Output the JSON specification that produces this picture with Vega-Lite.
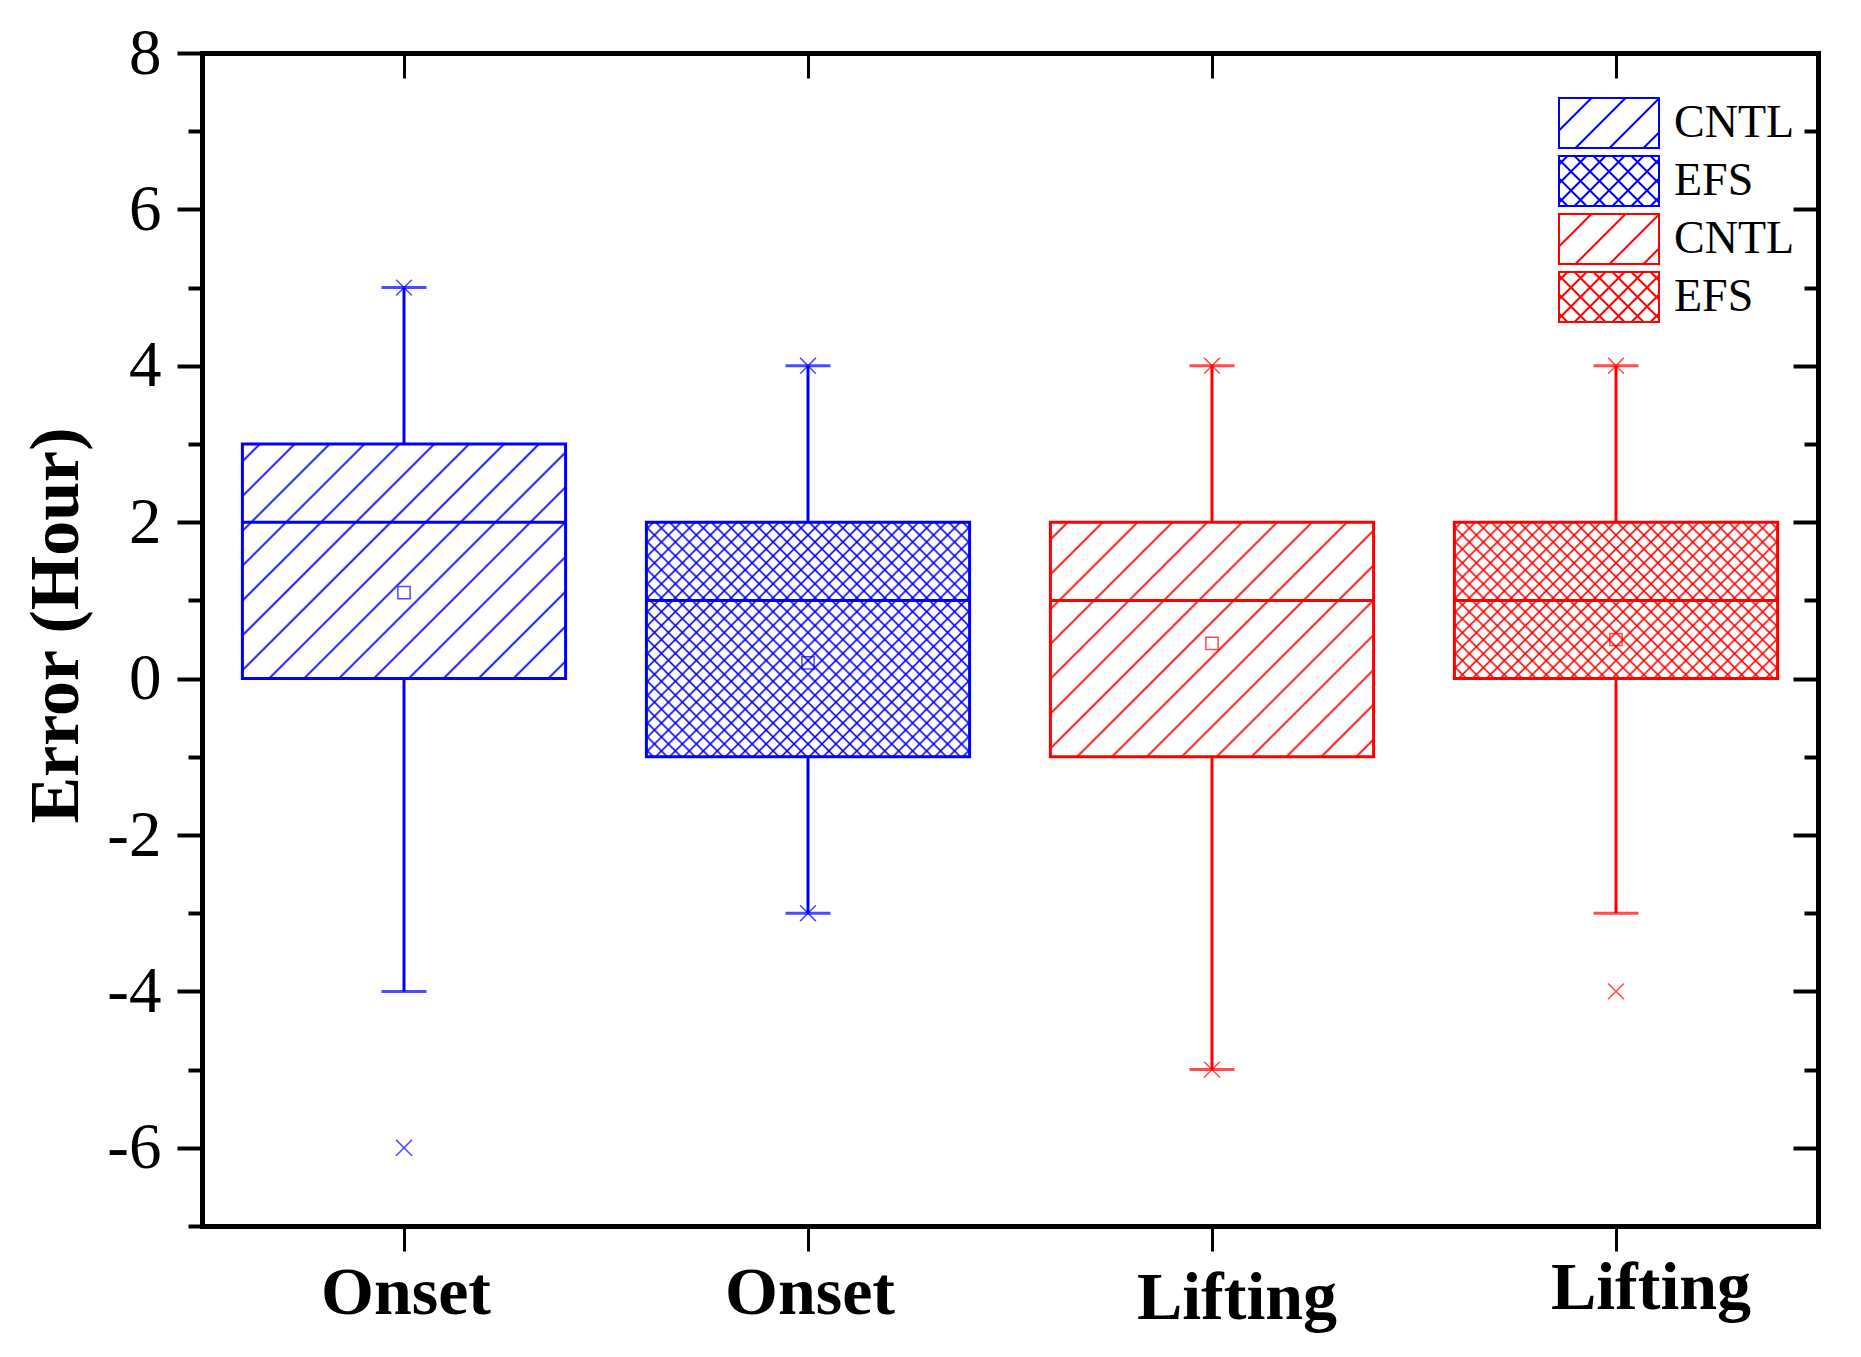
{
  "$schema": "https://vega.github.io/schema/vega-lite/v6.json",
  "width": 1616,
  "height": 1173,
  "autosize": {"type": "none"},
  "padding": {"left": 202, "top": 53, "right": 43, "bottom": 131},
  "background": "white",
  "config": {"view": {"stroke": null}, "font": "Liberation Serif"},
  "datasets": {
    "boxes": [
      {"id": "1", "name": "Onset", "grp": "a", "lower": -4, "q1": 0, "median": 2, "q3": 3, "upper": 5, "mean": 1.1},
      {"id": "2", "name": "Onset", "grp": "b", "lower": -3, "q1": -1, "median": 1, "q3": 2, "upper": 4, "mean": 0.2},
      {"id": "3", "name": "Lifting", "grp": "c", "lower": -5, "q1": -1, "median": 1, "q3": 2, "upper": 4, "mean": 0.45},
      {"id": "4", "name": "Lifting", "grp": "d", "lower": -3, "q1": 0, "median": 1, "q3": 2, "upper": 4, "mean": 0.5}
    ],
    "extremes": [
      {"id": "1", "grp": "a", "value": 5}, {"id": "1", "grp": "a", "value": -6},
      {"id": "2", "grp": "b", "value": 4}, {"id": "2", "grp": "b", "value": -3},
      {"id": "3", "grp": "c", "value": 4}, {"id": "3", "grp": "c", "value": -5},
      {"id": "4", "grp": "d", "value": 4}, {"id": "4", "grp": "d", "value": -4}
    ]
  },
  "data": {"name": "boxes"},
  "encoding": {
    "x": {"field": "id", "type": "nominal", "scale": {"type": "band", "domain": ["1", "2", "3", "4"], "paddingInner": 0.2, "paddingOuter": 0.1}, "axis": null},
    "color": {
      "field": "grp", "type": "nominal",
      "scale": {"domain": ["a", "b", "c", "d"], "range": ["#0000ff", "#0000ff", "#ff0000", "#ff0000"]},
      "legend": {
        "orient": "none", "legendX": 1381, "legendY": 44, "title": null, "padding": 0,
        "labelExpr": "{'a':'CNTL','b':'EFS','c':'CNTL','d':'EFS'}[datum.value]",
        "labelFont": "Liberation Serif", "labelFontSize": 46, "labelColor": "black", "labelOffset": 39,
        "rowPadding": 0, "symbolSize": 2500, "symbolStrokeWidth": 2, "symbolFillColor": "transparent",
        "encode": {"symbols": {"update": {
          "shape": {"signal": "datum.value === 'a' || datum.value === 'c' ? 'M-2,-1H2V1H-2ZM-2,0.3L-0.7,-1M-1.34,1L0.66,-1M0.02,1L2,-0.98M1.38,1L2,0.38' : 'M-2,-1H2V1H-2ZM-2,-0.66L-1.66,-1M-2,0.1L-0.9,-1M-2,0.86L-0.14,-1M-1.38,1L0.62,-1M-0.62,1L1.38,-1M0.14,1L2,-0.86M0.9,1L2,-0.1M1.66,1L2,0.66M-2,0.66L-1.66,1M-2,-0.1L-0.9,1M-2,-0.86L-0.14,1M-1.38,-1L0.62,1M-0.62,-1L1.38,1M0.14,-1L2,0.86M0.9,-1L2,0.1M1.66,-1L2,-0.66'"},
          "fill": {"value": "transparent"},
          "fillOpacity": {"value": 0},
          "stroke": {"scale": "color", "field": "value"},
          "strokeWidth": {"value": 2},
          "size": {"value": 2500}
        }}}
      }
    }
  },
  "layer": [
    {
      "transform": [{"filter": "datum.id === '1'"}],
      "mark": {"type": "bar"},
      "encoding": {
        "y": {"field": "q1", "type": "quantitative", "scale": {"domain": [-7, 8], "nice": false, "zero": false}, "axis": null},
        "y2": {"field": "q3"},
        "color": {"value": {"gradient": "linear", "x1": 0, "y1": 0, "x2": 1.1297, "y2": 0.8218, "stops": [
          {"offset": 0.02675, "color": "rgba(0,0,255,0)"}, {"offset": 0.03125, "color": "#0000ff"}, {"offset": 0.03575, "color": "rgba(0,0,255,0)"},
          {"offset": 0.08925, "color": "rgba(0,0,255,0)"}, {"offset": 0.09375, "color": "#0000ff"}, {"offset": 0.09825, "color": "rgba(0,0,255,0)"},
          {"offset": 0.15175, "color": "rgba(0,0,255,0)"}, {"offset": 0.15625, "color": "#0000ff"}, {"offset": 0.16075, "color": "rgba(0,0,255,0)"},
          {"offset": 0.21425, "color": "rgba(0,0,255,0)"}, {"offset": 0.21875, "color": "#0000ff"}, {"offset": 0.22325, "color": "rgba(0,0,255,0)"},
          {"offset": 0.27675, "color": "rgba(0,0,255,0)"}, {"offset": 0.28125, "color": "#0000ff"}, {"offset": 0.28575, "color": "rgba(0,0,255,0)"},
          {"offset": 0.33925, "color": "rgba(0,0,255,0)"}, {"offset": 0.34375, "color": "#0000ff"}, {"offset": 0.34825, "color": "rgba(0,0,255,0)"},
          {"offset": 0.40175, "color": "rgba(0,0,255,0)"}, {"offset": 0.40625, "color": "#0000ff"}, {"offset": 0.41075, "color": "rgba(0,0,255,0)"},
          {"offset": 0.46425, "color": "rgba(0,0,255,0)"}, {"offset": 0.46875, "color": "#0000ff"}, {"offset": 0.47325, "color": "rgba(0,0,255,0)"},
          {"offset": 0.52675, "color": "rgba(0,0,255,0)"}, {"offset": 0.53125, "color": "#0000ff"}, {"offset": 0.53575, "color": "rgba(0,0,255,0)"},
          {"offset": 0.58925, "color": "rgba(0,0,255,0)"}, {"offset": 0.59375, "color": "#0000ff"}, {"offset": 0.59825, "color": "rgba(0,0,255,0)"},
          {"offset": 0.65175, "color": "rgba(0,0,255,0)"}, {"offset": 0.65625, "color": "#0000ff"}, {"offset": 0.66075, "color": "rgba(0,0,255,0)"},
          {"offset": 0.71425, "color": "rgba(0,0,255,0)"}, {"offset": 0.71875, "color": "#0000ff"}, {"offset": 0.72325, "color": "rgba(0,0,255,0)"},
          {"offset": 0.77675, "color": "rgba(0,0,255,0)"}, {"offset": 0.78125, "color": "#0000ff"}, {"offset": 0.78575, "color": "rgba(0,0,255,0)"},
          {"offset": 0.83925, "color": "rgba(0,0,255,0)"}, {"offset": 0.84375, "color": "#0000ff"}, {"offset": 0.84825, "color": "rgba(0,0,255,0)"},
          {"offset": 0.90175, "color": "rgba(0,0,255,0)"}, {"offset": 0.90625, "color": "#0000ff"}, {"offset": 0.91075, "color": "rgba(0,0,255,0)"},
          {"offset": 0.96425, "color": "rgba(0,0,255,0)"}, {"offset": 0.96875, "color": "#0000ff"}, {"offset": 0.97325, "color": "rgba(0,0,255,0)"}
        ]}}
      }
    },
    {
      "transform": [{"filter": "datum.id === '2'"}],
      "mark": {"type": "bar"},
      "encoding": {
        "y": {"field": "q1", "type": "quantitative", "scale": {"domain": [-7, 8], "nice": false, "zero": false}, "axis": null},
        "y2": {"field": "q3"},
        "color": {"value": {"gradient": "linear", "x1": 0, "y1": 0, "x2": 1.1297, "y2": 0.8218, "stops": [
          {"offset": 0.0085, "color": "rgba(0,0,255,0)"}, {"offset": 0.0125, "color": "#0000ff"}, {"offset": 0.0165, "color": "rgba(0,0,255,0)"},
          {"offset": 0.0335, "color": "rgba(0,0,255,0)"}, {"offset": 0.0375, "color": "#0000ff"}, {"offset": 0.0415, "color": "rgba(0,0,255,0)"},
          {"offset": 0.0585, "color": "rgba(0,0,255,0)"}, {"offset": 0.0625, "color": "#0000ff"}, {"offset": 0.0665, "color": "rgba(0,0,255,0)"},
          {"offset": 0.0835, "color": "rgba(0,0,255,0)"}, {"offset": 0.0875, "color": "#0000ff"}, {"offset": 0.0915, "color": "rgba(0,0,255,0)"},
          {"offset": 0.1085, "color": "rgba(0,0,255,0)"}, {"offset": 0.1125, "color": "#0000ff"}, {"offset": 0.1165, "color": "rgba(0,0,255,0)"},
          {"offset": 0.1335, "color": "rgba(0,0,255,0)"}, {"offset": 0.1375, "color": "#0000ff"}, {"offset": 0.1415, "color": "rgba(0,0,255,0)"},
          {"offset": 0.1585, "color": "rgba(0,0,255,0)"}, {"offset": 0.1625, "color": "#0000ff"}, {"offset": 0.1665, "color": "rgba(0,0,255,0)"},
          {"offset": 0.1835, "color": "rgba(0,0,255,0)"}, {"offset": 0.1875, "color": "#0000ff"}, {"offset": 0.1915, "color": "rgba(0,0,255,0)"},
          {"offset": 0.2085, "color": "rgba(0,0,255,0)"}, {"offset": 0.2125, "color": "#0000ff"}, {"offset": 0.2165, "color": "rgba(0,0,255,0)"},
          {"offset": 0.2335, "color": "rgba(0,0,255,0)"}, {"offset": 0.2375, "color": "#0000ff"}, {"offset": 0.2415, "color": "rgba(0,0,255,0)"},
          {"offset": 0.2585, "color": "rgba(0,0,255,0)"}, {"offset": 0.2625, "color": "#0000ff"}, {"offset": 0.2665, "color": "rgba(0,0,255,0)"},
          {"offset": 0.2835, "color": "rgba(0,0,255,0)"}, {"offset": 0.2875, "color": "#0000ff"}, {"offset": 0.2915, "color": "rgba(0,0,255,0)"},
          {"offset": 0.3085, "color": "rgba(0,0,255,0)"}, {"offset": 0.3125, "color": "#0000ff"}, {"offset": 0.3165, "color": "rgba(0,0,255,0)"},
          {"offset": 0.3335, "color": "rgba(0,0,255,0)"}, {"offset": 0.3375, "color": "#0000ff"}, {"offset": 0.3415, "color": "rgba(0,0,255,0)"},
          {"offset": 0.3585, "color": "rgba(0,0,255,0)"}, {"offset": 0.3625, "color": "#0000ff"}, {"offset": 0.3665, "color": "rgba(0,0,255,0)"},
          {"offset": 0.3835, "color": "rgba(0,0,255,0)"}, {"offset": 0.3875, "color": "#0000ff"}, {"offset": 0.3915, "color": "rgba(0,0,255,0)"},
          {"offset": 0.4085, "color": "rgba(0,0,255,0)"}, {"offset": 0.4125, "color": "#0000ff"}, {"offset": 0.4165, "color": "rgba(0,0,255,0)"},
          {"offset": 0.4335, "color": "rgba(0,0,255,0)"}, {"offset": 0.4375, "color": "#0000ff"}, {"offset": 0.4415, "color": "rgba(0,0,255,0)"},
          {"offset": 0.4585, "color": "rgba(0,0,255,0)"}, {"offset": 0.4625, "color": "#0000ff"}, {"offset": 0.4665, "color": "rgba(0,0,255,0)"},
          {"offset": 0.4835, "color": "rgba(0,0,255,0)"}, {"offset": 0.4875, "color": "#0000ff"}, {"offset": 0.4915, "color": "rgba(0,0,255,0)"},
          {"offset": 0.5085, "color": "rgba(0,0,255,0)"}, {"offset": 0.5125, "color": "#0000ff"}, {"offset": 0.5165, "color": "rgba(0,0,255,0)"},
          {"offset": 0.5335, "color": "rgba(0,0,255,0)"}, {"offset": 0.5375, "color": "#0000ff"}, {"offset": 0.5415, "color": "rgba(0,0,255,0)"},
          {"offset": 0.5585, "color": "rgba(0,0,255,0)"}, {"offset": 0.5625, "color": "#0000ff"}, {"offset": 0.5665, "color": "rgba(0,0,255,0)"},
          {"offset": 0.5835, "color": "rgba(0,0,255,0)"}, {"offset": 0.5875, "color": "#0000ff"}, {"offset": 0.5915, "color": "rgba(0,0,255,0)"},
          {"offset": 0.6085, "color": "rgba(0,0,255,0)"}, {"offset": 0.6125, "color": "#0000ff"}, {"offset": 0.6165, "color": "rgba(0,0,255,0)"},
          {"offset": 0.6335, "color": "rgba(0,0,255,0)"}, {"offset": 0.6375, "color": "#0000ff"}, {"offset": 0.6415, "color": "rgba(0,0,255,0)"},
          {"offset": 0.6585, "color": "rgba(0,0,255,0)"}, {"offset": 0.6625, "color": "#0000ff"}, {"offset": 0.6665, "color": "rgba(0,0,255,0)"},
          {"offset": 0.6835, "color": "rgba(0,0,255,0)"}, {"offset": 0.6875, "color": "#0000ff"}, {"offset": 0.6915, "color": "rgba(0,0,255,0)"},
          {"offset": 0.7085, "color": "rgba(0,0,255,0)"}, {"offset": 0.7125, "color": "#0000ff"}, {"offset": 0.7165, "color": "rgba(0,0,255,0)"},
          {"offset": 0.7335, "color": "rgba(0,0,255,0)"}, {"offset": 0.7375, "color": "#0000ff"}, {"offset": 0.7415, "color": "rgba(0,0,255,0)"},
          {"offset": 0.7585, "color": "rgba(0,0,255,0)"}, {"offset": 0.7625, "color": "#0000ff"}, {"offset": 0.7665, "color": "rgba(0,0,255,0)"},
          {"offset": 0.7835, "color": "rgba(0,0,255,0)"}, {"offset": 0.7875, "color": "#0000ff"}, {"offset": 0.7915, "color": "rgba(0,0,255,0)"},
          {"offset": 0.8085, "color": "rgba(0,0,255,0)"}, {"offset": 0.8125, "color": "#0000ff"}, {"offset": 0.8165, "color": "rgba(0,0,255,0)"},
          {"offset": 0.8335, "color": "rgba(0,0,255,0)"}, {"offset": 0.8375, "color": "#0000ff"}, {"offset": 0.8415, "color": "rgba(0,0,255,0)"},
          {"offset": 0.8585, "color": "rgba(0,0,255,0)"}, {"offset": 0.8625, "color": "#0000ff"}, {"offset": 0.8665, "color": "rgba(0,0,255,0)"},
          {"offset": 0.8835, "color": "rgba(0,0,255,0)"}, {"offset": 0.8875, "color": "#0000ff"}, {"offset": 0.8915, "color": "rgba(0,0,255,0)"},
          {"offset": 0.9085, "color": "rgba(0,0,255,0)"}, {"offset": 0.9125, "color": "#0000ff"}, {"offset": 0.9165, "color": "rgba(0,0,255,0)"},
          {"offset": 0.9335, "color": "rgba(0,0,255,0)"}, {"offset": 0.9375, "color": "#0000ff"}, {"offset": 0.9415, "color": "rgba(0,0,255,0)"},
          {"offset": 0.9585, "color": "rgba(0,0,255,0)"}, {"offset": 0.9625, "color": "#0000ff"}, {"offset": 0.9665, "color": "rgba(0,0,255,0)"},
          {"offset": 0.9835, "color": "rgba(0,0,255,0)"}, {"offset": 0.9875, "color": "#0000ff"}, {"offset": 0.9915, "color": "rgba(0,0,255,0)"}
        ]}}
      }
    },
    {
      "transform": [{"filter": "datum.id === '2'"}],
      "mark": {"type": "bar"},
      "encoding": {
        "y": {"field": "q1", "type": "quantitative", "scale": {"domain": [-7, 8], "nice": false, "zero": false}, "axis": null},
        "y2": {"field": "q3"},
        "color": {"value": {"gradient": "linear", "x1": 1, "y1": 0, "x2": -0.1297, "y2": 0.8218, "stops": [
          {"offset": 0.0085, "color": "rgba(0,0,255,0)"}, {"offset": 0.0125, "color": "#0000ff"}, {"offset": 0.0165, "color": "rgba(0,0,255,0)"},
          {"offset": 0.0335, "color": "rgba(0,0,255,0)"}, {"offset": 0.0375, "color": "#0000ff"}, {"offset": 0.0415, "color": "rgba(0,0,255,0)"},
          {"offset": 0.0585, "color": "rgba(0,0,255,0)"}, {"offset": 0.0625, "color": "#0000ff"}, {"offset": 0.0665, "color": "rgba(0,0,255,0)"},
          {"offset": 0.0835, "color": "rgba(0,0,255,0)"}, {"offset": 0.0875, "color": "#0000ff"}, {"offset": 0.0915, "color": "rgba(0,0,255,0)"},
          {"offset": 0.1085, "color": "rgba(0,0,255,0)"}, {"offset": 0.1125, "color": "#0000ff"}, {"offset": 0.1165, "color": "rgba(0,0,255,0)"},
          {"offset": 0.1335, "color": "rgba(0,0,255,0)"}, {"offset": 0.1375, "color": "#0000ff"}, {"offset": 0.1415, "color": "rgba(0,0,255,0)"},
          {"offset": 0.1585, "color": "rgba(0,0,255,0)"}, {"offset": 0.1625, "color": "#0000ff"}, {"offset": 0.1665, "color": "rgba(0,0,255,0)"},
          {"offset": 0.1835, "color": "rgba(0,0,255,0)"}, {"offset": 0.1875, "color": "#0000ff"}, {"offset": 0.1915, "color": "rgba(0,0,255,0)"},
          {"offset": 0.2085, "color": "rgba(0,0,255,0)"}, {"offset": 0.2125, "color": "#0000ff"}, {"offset": 0.2165, "color": "rgba(0,0,255,0)"},
          {"offset": 0.2335, "color": "rgba(0,0,255,0)"}, {"offset": 0.2375, "color": "#0000ff"}, {"offset": 0.2415, "color": "rgba(0,0,255,0)"},
          {"offset": 0.2585, "color": "rgba(0,0,255,0)"}, {"offset": 0.2625, "color": "#0000ff"}, {"offset": 0.2665, "color": "rgba(0,0,255,0)"},
          {"offset": 0.2835, "color": "rgba(0,0,255,0)"}, {"offset": 0.2875, "color": "#0000ff"}, {"offset": 0.2915, "color": "rgba(0,0,255,0)"},
          {"offset": 0.3085, "color": "rgba(0,0,255,0)"}, {"offset": 0.3125, "color": "#0000ff"}, {"offset": 0.3165, "color": "rgba(0,0,255,0)"},
          {"offset": 0.3335, "color": "rgba(0,0,255,0)"}, {"offset": 0.3375, "color": "#0000ff"}, {"offset": 0.3415, "color": "rgba(0,0,255,0)"},
          {"offset": 0.3585, "color": "rgba(0,0,255,0)"}, {"offset": 0.3625, "color": "#0000ff"}, {"offset": 0.3665, "color": "rgba(0,0,255,0)"},
          {"offset": 0.3835, "color": "rgba(0,0,255,0)"}, {"offset": 0.3875, "color": "#0000ff"}, {"offset": 0.3915, "color": "rgba(0,0,255,0)"},
          {"offset": 0.4085, "color": "rgba(0,0,255,0)"}, {"offset": 0.4125, "color": "#0000ff"}, {"offset": 0.4165, "color": "rgba(0,0,255,0)"},
          {"offset": 0.4335, "color": "rgba(0,0,255,0)"}, {"offset": 0.4375, "color": "#0000ff"}, {"offset": 0.4415, "color": "rgba(0,0,255,0)"},
          {"offset": 0.4585, "color": "rgba(0,0,255,0)"}, {"offset": 0.4625, "color": "#0000ff"}, {"offset": 0.4665, "color": "rgba(0,0,255,0)"},
          {"offset": 0.4835, "color": "rgba(0,0,255,0)"}, {"offset": 0.4875, "color": "#0000ff"}, {"offset": 0.4915, "color": "rgba(0,0,255,0)"},
          {"offset": 0.5085, "color": "rgba(0,0,255,0)"}, {"offset": 0.5125, "color": "#0000ff"}, {"offset": 0.5165, "color": "rgba(0,0,255,0)"},
          {"offset": 0.5335, "color": "rgba(0,0,255,0)"}, {"offset": 0.5375, "color": "#0000ff"}, {"offset": 0.5415, "color": "rgba(0,0,255,0)"},
          {"offset": 0.5585, "color": "rgba(0,0,255,0)"}, {"offset": 0.5625, "color": "#0000ff"}, {"offset": 0.5665, "color": "rgba(0,0,255,0)"},
          {"offset": 0.5835, "color": "rgba(0,0,255,0)"}, {"offset": 0.5875, "color": "#0000ff"}, {"offset": 0.5915, "color": "rgba(0,0,255,0)"},
          {"offset": 0.6085, "color": "rgba(0,0,255,0)"}, {"offset": 0.6125, "color": "#0000ff"}, {"offset": 0.6165, "color": "rgba(0,0,255,0)"},
          {"offset": 0.6335, "color": "rgba(0,0,255,0)"}, {"offset": 0.6375, "color": "#0000ff"}, {"offset": 0.6415, "color": "rgba(0,0,255,0)"},
          {"offset": 0.6585, "color": "rgba(0,0,255,0)"}, {"offset": 0.6625, "color": "#0000ff"}, {"offset": 0.6665, "color": "rgba(0,0,255,0)"},
          {"offset": 0.6835, "color": "rgba(0,0,255,0)"}, {"offset": 0.6875, "color": "#0000ff"}, {"offset": 0.6915, "color": "rgba(0,0,255,0)"},
          {"offset": 0.7085, "color": "rgba(0,0,255,0)"}, {"offset": 0.7125, "color": "#0000ff"}, {"offset": 0.7165, "color": "rgba(0,0,255,0)"},
          {"offset": 0.7335, "color": "rgba(0,0,255,0)"}, {"offset": 0.7375, "color": "#0000ff"}, {"offset": 0.7415, "color": "rgba(0,0,255,0)"},
          {"offset": 0.7585, "color": "rgba(0,0,255,0)"}, {"offset": 0.7625, "color": "#0000ff"}, {"offset": 0.7665, "color": "rgba(0,0,255,0)"},
          {"offset": 0.7835, "color": "rgba(0,0,255,0)"}, {"offset": 0.7875, "color": "#0000ff"}, {"offset": 0.7915, "color": "rgba(0,0,255,0)"},
          {"offset": 0.8085, "color": "rgba(0,0,255,0)"}, {"offset": 0.8125, "color": "#0000ff"}, {"offset": 0.8165, "color": "rgba(0,0,255,0)"},
          {"offset": 0.8335, "color": "rgba(0,0,255,0)"}, {"offset": 0.8375, "color": "#0000ff"}, {"offset": 0.8415, "color": "rgba(0,0,255,0)"},
          {"offset": 0.8585, "color": "rgba(0,0,255,0)"}, {"offset": 0.8625, "color": "#0000ff"}, {"offset": 0.8665, "color": "rgba(0,0,255,0)"},
          {"offset": 0.8835, "color": "rgba(0,0,255,0)"}, {"offset": 0.8875, "color": "#0000ff"}, {"offset": 0.8915, "color": "rgba(0,0,255,0)"},
          {"offset": 0.9085, "color": "rgba(0,0,255,0)"}, {"offset": 0.9125, "color": "#0000ff"}, {"offset": 0.9165, "color": "rgba(0,0,255,0)"},
          {"offset": 0.9335, "color": "rgba(0,0,255,0)"}, {"offset": 0.9375, "color": "#0000ff"}, {"offset": 0.9415, "color": "rgba(0,0,255,0)"},
          {"offset": 0.9585, "color": "rgba(0,0,255,0)"}, {"offset": 0.9625, "color": "#0000ff"}, {"offset": 0.9665, "color": "rgba(0,0,255,0)"},
          {"offset": 0.9835, "color": "rgba(0,0,255,0)"}, {"offset": 0.9875, "color": "#0000ff"}, {"offset": 0.9915, "color": "rgba(0,0,255,0)"}
        ]}}
      }
    },
    {
      "transform": [{"filter": "datum.id === '3'"}],
      "mark": {"type": "bar"},
      "encoding": {
        "y": {"field": "q1", "type": "quantitative", "scale": {"domain": [-7, 8], "nice": false, "zero": false}, "axis": null},
        "y2": {"field": "q3"},
        "color": {"value": {"gradient": "linear", "x1": 0, "y1": 0, "x2": 1.1297, "y2": 0.8218, "stops": [
          {"offset": 0.02675, "color": "rgba(255,0,0,0)"}, {"offset": 0.03125, "color": "#ff0000"}, {"offset": 0.03575, "color": "rgba(255,0,0,0)"},
          {"offset": 0.08925, "color": "rgba(255,0,0,0)"}, {"offset": 0.09375, "color": "#ff0000"}, {"offset": 0.09825, "color": "rgba(255,0,0,0)"},
          {"offset": 0.15175, "color": "rgba(255,0,0,0)"}, {"offset": 0.15625, "color": "#ff0000"}, {"offset": 0.16075, "color": "rgba(255,0,0,0)"},
          {"offset": 0.21425, "color": "rgba(255,0,0,0)"}, {"offset": 0.21875, "color": "#ff0000"}, {"offset": 0.22325, "color": "rgba(255,0,0,0)"},
          {"offset": 0.27675, "color": "rgba(255,0,0,0)"}, {"offset": 0.28125, "color": "#ff0000"}, {"offset": 0.28575, "color": "rgba(255,0,0,0)"},
          {"offset": 0.33925, "color": "rgba(255,0,0,0)"}, {"offset": 0.34375, "color": "#ff0000"}, {"offset": 0.34825, "color": "rgba(255,0,0,0)"},
          {"offset": 0.40175, "color": "rgba(255,0,0,0)"}, {"offset": 0.40625, "color": "#ff0000"}, {"offset": 0.41075, "color": "rgba(255,0,0,0)"},
          {"offset": 0.46425, "color": "rgba(255,0,0,0)"}, {"offset": 0.46875, "color": "#ff0000"}, {"offset": 0.47325, "color": "rgba(255,0,0,0)"},
          {"offset": 0.52675, "color": "rgba(255,0,0,0)"}, {"offset": 0.53125, "color": "#ff0000"}, {"offset": 0.53575, "color": "rgba(255,0,0,0)"},
          {"offset": 0.58925, "color": "rgba(255,0,0,0)"}, {"offset": 0.59375, "color": "#ff0000"}, {"offset": 0.59825, "color": "rgba(255,0,0,0)"},
          {"offset": 0.65175, "color": "rgba(255,0,0,0)"}, {"offset": 0.65625, "color": "#ff0000"}, {"offset": 0.66075, "color": "rgba(255,0,0,0)"},
          {"offset": 0.71425, "color": "rgba(255,0,0,0)"}, {"offset": 0.71875, "color": "#ff0000"}, {"offset": 0.72325, "color": "rgba(255,0,0,0)"},
          {"offset": 0.77675, "color": "rgba(255,0,0,0)"}, {"offset": 0.78125, "color": "#ff0000"}, {"offset": 0.78575, "color": "rgba(255,0,0,0)"},
          {"offset": 0.83925, "color": "rgba(255,0,0,0)"}, {"offset": 0.84375, "color": "#ff0000"}, {"offset": 0.84825, "color": "rgba(255,0,0,0)"},
          {"offset": 0.90175, "color": "rgba(255,0,0,0)"}, {"offset": 0.90625, "color": "#ff0000"}, {"offset": 0.91075, "color": "rgba(255,0,0,0)"},
          {"offset": 0.96425, "color": "rgba(255,0,0,0)"}, {"offset": 0.96875, "color": "#ff0000"}, {"offset": 0.97325, "color": "rgba(255,0,0,0)"}
        ]}}
      }
    },
    {
      "transform": [{"filter": "datum.id === '4'"}],
      "mark": {"type": "bar"},
      "encoding": {
        "y": {"field": "q1", "type": "quantitative", "scale": {"domain": [-7, 8], "nice": false, "zero": false}, "axis": null},
        "y2": {"field": "q3"},
        "color": {"value": {"gradient": "linear", "x1": 0, "y1": 0, "x2": 1.3996, "y2": 0.6777, "stops": [
          {"offset": 0.0085, "color": "rgba(255,0,0,0)"}, {"offset": 0.0125, "color": "#ff0000"}, {"offset": 0.0165, "color": "rgba(255,0,0,0)"},
          {"offset": 0.0335, "color": "rgba(255,0,0,0)"}, {"offset": 0.0375, "color": "#ff0000"}, {"offset": 0.0415, "color": "rgba(255,0,0,0)"},
          {"offset": 0.0585, "color": "rgba(255,0,0,0)"}, {"offset": 0.0625, "color": "#ff0000"}, {"offset": 0.0665, "color": "rgba(255,0,0,0)"},
          {"offset": 0.0835, "color": "rgba(255,0,0,0)"}, {"offset": 0.0875, "color": "#ff0000"}, {"offset": 0.0915, "color": "rgba(255,0,0,0)"},
          {"offset": 0.1085, "color": "rgba(255,0,0,0)"}, {"offset": 0.1125, "color": "#ff0000"}, {"offset": 0.1165, "color": "rgba(255,0,0,0)"},
          {"offset": 0.1335, "color": "rgba(255,0,0,0)"}, {"offset": 0.1375, "color": "#ff0000"}, {"offset": 0.1415, "color": "rgba(255,0,0,0)"},
          {"offset": 0.1585, "color": "rgba(255,0,0,0)"}, {"offset": 0.1625, "color": "#ff0000"}, {"offset": 0.1665, "color": "rgba(255,0,0,0)"},
          {"offset": 0.1835, "color": "rgba(255,0,0,0)"}, {"offset": 0.1875, "color": "#ff0000"}, {"offset": 0.1915, "color": "rgba(255,0,0,0)"},
          {"offset": 0.2085, "color": "rgba(255,0,0,0)"}, {"offset": 0.2125, "color": "#ff0000"}, {"offset": 0.2165, "color": "rgba(255,0,0,0)"},
          {"offset": 0.2335, "color": "rgba(255,0,0,0)"}, {"offset": 0.2375, "color": "#ff0000"}, {"offset": 0.2415, "color": "rgba(255,0,0,0)"},
          {"offset": 0.2585, "color": "rgba(255,0,0,0)"}, {"offset": 0.2625, "color": "#ff0000"}, {"offset": 0.2665, "color": "rgba(255,0,0,0)"},
          {"offset": 0.2835, "color": "rgba(255,0,0,0)"}, {"offset": 0.2875, "color": "#ff0000"}, {"offset": 0.2915, "color": "rgba(255,0,0,0)"},
          {"offset": 0.3085, "color": "rgba(255,0,0,0)"}, {"offset": 0.3125, "color": "#ff0000"}, {"offset": 0.3165, "color": "rgba(255,0,0,0)"},
          {"offset": 0.3335, "color": "rgba(255,0,0,0)"}, {"offset": 0.3375, "color": "#ff0000"}, {"offset": 0.3415, "color": "rgba(255,0,0,0)"},
          {"offset": 0.3585, "color": "rgba(255,0,0,0)"}, {"offset": 0.3625, "color": "#ff0000"}, {"offset": 0.3665, "color": "rgba(255,0,0,0)"},
          {"offset": 0.3835, "color": "rgba(255,0,0,0)"}, {"offset": 0.3875, "color": "#ff0000"}, {"offset": 0.3915, "color": "rgba(255,0,0,0)"},
          {"offset": 0.4085, "color": "rgba(255,0,0,0)"}, {"offset": 0.4125, "color": "#ff0000"}, {"offset": 0.4165, "color": "rgba(255,0,0,0)"},
          {"offset": 0.4335, "color": "rgba(255,0,0,0)"}, {"offset": 0.4375, "color": "#ff0000"}, {"offset": 0.4415, "color": "rgba(255,0,0,0)"},
          {"offset": 0.4585, "color": "rgba(255,0,0,0)"}, {"offset": 0.4625, "color": "#ff0000"}, {"offset": 0.4665, "color": "rgba(255,0,0,0)"},
          {"offset": 0.4835, "color": "rgba(255,0,0,0)"}, {"offset": 0.4875, "color": "#ff0000"}, {"offset": 0.4915, "color": "rgba(255,0,0,0)"},
          {"offset": 0.5085, "color": "rgba(255,0,0,0)"}, {"offset": 0.5125, "color": "#ff0000"}, {"offset": 0.5165, "color": "rgba(255,0,0,0)"},
          {"offset": 0.5335, "color": "rgba(255,0,0,0)"}, {"offset": 0.5375, "color": "#ff0000"}, {"offset": 0.5415, "color": "rgba(255,0,0,0)"},
          {"offset": 0.5585, "color": "rgba(255,0,0,0)"}, {"offset": 0.5625, "color": "#ff0000"}, {"offset": 0.5665, "color": "rgba(255,0,0,0)"},
          {"offset": 0.5835, "color": "rgba(255,0,0,0)"}, {"offset": 0.5875, "color": "#ff0000"}, {"offset": 0.5915, "color": "rgba(255,0,0,0)"},
          {"offset": 0.6085, "color": "rgba(255,0,0,0)"}, {"offset": 0.6125, "color": "#ff0000"}, {"offset": 0.6165, "color": "rgba(255,0,0,0)"},
          {"offset": 0.6335, "color": "rgba(255,0,0,0)"}, {"offset": 0.6375, "color": "#ff0000"}, {"offset": 0.6415, "color": "rgba(255,0,0,0)"},
          {"offset": 0.6585, "color": "rgba(255,0,0,0)"}, {"offset": 0.6625, "color": "#ff0000"}, {"offset": 0.6665, "color": "rgba(255,0,0,0)"},
          {"offset": 0.6835, "color": "rgba(255,0,0,0)"}, {"offset": 0.6875, "color": "#ff0000"}, {"offset": 0.6915, "color": "rgba(255,0,0,0)"},
          {"offset": 0.7085, "color": "rgba(255,0,0,0)"}, {"offset": 0.7125, "color": "#ff0000"}, {"offset": 0.7165, "color": "rgba(255,0,0,0)"},
          {"offset": 0.7335, "color": "rgba(255,0,0,0)"}, {"offset": 0.7375, "color": "#ff0000"}, {"offset": 0.7415, "color": "rgba(255,0,0,0)"},
          {"offset": 0.7585, "color": "rgba(255,0,0,0)"}, {"offset": 0.7625, "color": "#ff0000"}, {"offset": 0.7665, "color": "rgba(255,0,0,0)"},
          {"offset": 0.7835, "color": "rgba(255,0,0,0)"}, {"offset": 0.7875, "color": "#ff0000"}, {"offset": 0.7915, "color": "rgba(255,0,0,0)"},
          {"offset": 0.8085, "color": "rgba(255,0,0,0)"}, {"offset": 0.8125, "color": "#ff0000"}, {"offset": 0.8165, "color": "rgba(255,0,0,0)"},
          {"offset": 0.8335, "color": "rgba(255,0,0,0)"}, {"offset": 0.8375, "color": "#ff0000"}, {"offset": 0.8415, "color": "rgba(255,0,0,0)"},
          {"offset": 0.8585, "color": "rgba(255,0,0,0)"}, {"offset": 0.8625, "color": "#ff0000"}, {"offset": 0.8665, "color": "rgba(255,0,0,0)"},
          {"offset": 0.8835, "color": "rgba(255,0,0,0)"}, {"offset": 0.8875, "color": "#ff0000"}, {"offset": 0.8915, "color": "rgba(255,0,0,0)"},
          {"offset": 0.9085, "color": "rgba(255,0,0,0)"}, {"offset": 0.9125, "color": "#ff0000"}, {"offset": 0.9165, "color": "rgba(255,0,0,0)"},
          {"offset": 0.9335, "color": "rgba(255,0,0,0)"}, {"offset": 0.9375, "color": "#ff0000"}, {"offset": 0.9415, "color": "rgba(255,0,0,0)"},
          {"offset": 0.9585, "color": "rgba(255,0,0,0)"}, {"offset": 0.9625, "color": "#ff0000"}, {"offset": 0.9665, "color": "rgba(255,0,0,0)"},
          {"offset": 0.9835, "color": "rgba(255,0,0,0)"}, {"offset": 0.9875, "color": "#ff0000"}, {"offset": 0.9915, "color": "rgba(255,0,0,0)"}
        ]}}
      }
    },
    {
      "transform": [{"filter": "datum.id === '4'"}],
      "mark": {"type": "bar"},
      "encoding": {
        "y": {"field": "q1", "type": "quantitative", "scale": {"domain": [-7, 8], "nice": false, "zero": false}, "axis": null},
        "y2": {"field": "q3"},
        "color": {"value": {"gradient": "linear", "x1": 1, "y1": 0, "x2": -0.3996, "y2": 0.6777, "stops": [
          {"offset": 0.0085, "color": "rgba(255,0,0,0)"}, {"offset": 0.0125, "color": "#ff0000"}, {"offset": 0.0165, "color": "rgba(255,0,0,0)"},
          {"offset": 0.0335, "color": "rgba(255,0,0,0)"}, {"offset": 0.0375, "color": "#ff0000"}, {"offset": 0.0415, "color": "rgba(255,0,0,0)"},
          {"offset": 0.0585, "color": "rgba(255,0,0,0)"}, {"offset": 0.0625, "color": "#ff0000"}, {"offset": 0.0665, "color": "rgba(255,0,0,0)"},
          {"offset": 0.0835, "color": "rgba(255,0,0,0)"}, {"offset": 0.0875, "color": "#ff0000"}, {"offset": 0.0915, "color": "rgba(255,0,0,0)"},
          {"offset": 0.1085, "color": "rgba(255,0,0,0)"}, {"offset": 0.1125, "color": "#ff0000"}, {"offset": 0.1165, "color": "rgba(255,0,0,0)"},
          {"offset": 0.1335, "color": "rgba(255,0,0,0)"}, {"offset": 0.1375, "color": "#ff0000"}, {"offset": 0.1415, "color": "rgba(255,0,0,0)"},
          {"offset": 0.1585, "color": "rgba(255,0,0,0)"}, {"offset": 0.1625, "color": "#ff0000"}, {"offset": 0.1665, "color": "rgba(255,0,0,0)"},
          {"offset": 0.1835, "color": "rgba(255,0,0,0)"}, {"offset": 0.1875, "color": "#ff0000"}, {"offset": 0.1915, "color": "rgba(255,0,0,0)"},
          {"offset": 0.2085, "color": "rgba(255,0,0,0)"}, {"offset": 0.2125, "color": "#ff0000"}, {"offset": 0.2165, "color": "rgba(255,0,0,0)"},
          {"offset": 0.2335, "color": "rgba(255,0,0,0)"}, {"offset": 0.2375, "color": "#ff0000"}, {"offset": 0.2415, "color": "rgba(255,0,0,0)"},
          {"offset": 0.2585, "color": "rgba(255,0,0,0)"}, {"offset": 0.2625, "color": "#ff0000"}, {"offset": 0.2665, "color": "rgba(255,0,0,0)"},
          {"offset": 0.2835, "color": "rgba(255,0,0,0)"}, {"offset": 0.2875, "color": "#ff0000"}, {"offset": 0.2915, "color": "rgba(255,0,0,0)"},
          {"offset": 0.3085, "color": "rgba(255,0,0,0)"}, {"offset": 0.3125, "color": "#ff0000"}, {"offset": 0.3165, "color": "rgba(255,0,0,0)"},
          {"offset": 0.3335, "color": "rgba(255,0,0,0)"}, {"offset": 0.3375, "color": "#ff0000"}, {"offset": 0.3415, "color": "rgba(255,0,0,0)"},
          {"offset": 0.3585, "color": "rgba(255,0,0,0)"}, {"offset": 0.3625, "color": "#ff0000"}, {"offset": 0.3665, "color": "rgba(255,0,0,0)"},
          {"offset": 0.3835, "color": "rgba(255,0,0,0)"}, {"offset": 0.3875, "color": "#ff0000"}, {"offset": 0.3915, "color": "rgba(255,0,0,0)"},
          {"offset": 0.4085, "color": "rgba(255,0,0,0)"}, {"offset": 0.4125, "color": "#ff0000"}, {"offset": 0.4165, "color": "rgba(255,0,0,0)"},
          {"offset": 0.4335, "color": "rgba(255,0,0,0)"}, {"offset": 0.4375, "color": "#ff0000"}, {"offset": 0.4415, "color": "rgba(255,0,0,0)"},
          {"offset": 0.4585, "color": "rgba(255,0,0,0)"}, {"offset": 0.4625, "color": "#ff0000"}, {"offset": 0.4665, "color": "rgba(255,0,0,0)"},
          {"offset": 0.4835, "color": "rgba(255,0,0,0)"}, {"offset": 0.4875, "color": "#ff0000"}, {"offset": 0.4915, "color": "rgba(255,0,0,0)"},
          {"offset": 0.5085, "color": "rgba(255,0,0,0)"}, {"offset": 0.5125, "color": "#ff0000"}, {"offset": 0.5165, "color": "rgba(255,0,0,0)"},
          {"offset": 0.5335, "color": "rgba(255,0,0,0)"}, {"offset": 0.5375, "color": "#ff0000"}, {"offset": 0.5415, "color": "rgba(255,0,0,0)"},
          {"offset": 0.5585, "color": "rgba(255,0,0,0)"}, {"offset": 0.5625, "color": "#ff0000"}, {"offset": 0.5665, "color": "rgba(255,0,0,0)"},
          {"offset": 0.5835, "color": "rgba(255,0,0,0)"}, {"offset": 0.5875, "color": "#ff0000"}, {"offset": 0.5915, "color": "rgba(255,0,0,0)"},
          {"offset": 0.6085, "color": "rgba(255,0,0,0)"}, {"offset": 0.6125, "color": "#ff0000"}, {"offset": 0.6165, "color": "rgba(255,0,0,0)"},
          {"offset": 0.6335, "color": "rgba(255,0,0,0)"}, {"offset": 0.6375, "color": "#ff0000"}, {"offset": 0.6415, "color": "rgba(255,0,0,0)"},
          {"offset": 0.6585, "color": "rgba(255,0,0,0)"}, {"offset": 0.6625, "color": "#ff0000"}, {"offset": 0.6665, "color": "rgba(255,0,0,0)"},
          {"offset": 0.6835, "color": "rgba(255,0,0,0)"}, {"offset": 0.6875, "color": "#ff0000"}, {"offset": 0.6915, "color": "rgba(255,0,0,0)"},
          {"offset": 0.7085, "color": "rgba(255,0,0,0)"}, {"offset": 0.7125, "color": "#ff0000"}, {"offset": 0.7165, "color": "rgba(255,0,0,0)"},
          {"offset": 0.7335, "color": "rgba(255,0,0,0)"}, {"offset": 0.7375, "color": "#ff0000"}, {"offset": 0.7415, "color": "rgba(255,0,0,0)"},
          {"offset": 0.7585, "color": "rgba(255,0,0,0)"}, {"offset": 0.7625, "color": "#ff0000"}, {"offset": 0.7665, "color": "rgba(255,0,0,0)"},
          {"offset": 0.7835, "color": "rgba(255,0,0,0)"}, {"offset": 0.7875, "color": "#ff0000"}, {"offset": 0.7915, "color": "rgba(255,0,0,0)"},
          {"offset": 0.8085, "color": "rgba(255,0,0,0)"}, {"offset": 0.8125, "color": "#ff0000"}, {"offset": 0.8165, "color": "rgba(255,0,0,0)"},
          {"offset": 0.8335, "color": "rgba(255,0,0,0)"}, {"offset": 0.8375, "color": "#ff0000"}, {"offset": 0.8415, "color": "rgba(255,0,0,0)"},
          {"offset": 0.8585, "color": "rgba(255,0,0,0)"}, {"offset": 0.8625, "color": "#ff0000"}, {"offset": 0.8665, "color": "rgba(255,0,0,0)"},
          {"offset": 0.8835, "color": "rgba(255,0,0,0)"}, {"offset": 0.8875, "color": "#ff0000"}, {"offset": 0.8915, "color": "rgba(255,0,0,0)"},
          {"offset": 0.9085, "color": "rgba(255,0,0,0)"}, {"offset": 0.9125, "color": "#ff0000"}, {"offset": 0.9165, "color": "rgba(255,0,0,0)"},
          {"offset": 0.9335, "color": "rgba(255,0,0,0)"}, {"offset": 0.9375, "color": "#ff0000"}, {"offset": 0.9415, "color": "rgba(255,0,0,0)"},
          {"offset": 0.9585, "color": "rgba(255,0,0,0)"}, {"offset": 0.9625, "color": "#ff0000"}, {"offset": 0.9665, "color": "rgba(255,0,0,0)"},
          {"offset": 0.9835, "color": "rgba(255,0,0,0)"}, {"offset": 0.9875, "color": "#ff0000"}, {"offset": 0.9915, "color": "rgba(255,0,0,0)"}
        ]}}
      }
    },
    {
      "mark": {"type": "bar", "filled": false, "strokeWidth": 3},
      "encoding": {
        "x": {
          "field": "id", "type": "nominal",
          "scale": {"type": "band", "domain": ["1", "2", "3", "4"], "paddingInner": 0.2, "paddingOuter": 0.1},
          "axis": {
            "orient": "bottom", "title": null, "labelAngle": 0, "labelLimit": 0,
            "labelExpr": "{'1':'Onset','2':'Onset','3':'Lifting','4':'Lifting'}[datum.value]",
            "labelFont": "Liberation Serif", "labelFontSize": 68, "labelFontWeight": "bold", "labelColor": "black",
            "labelOffset": {"condition": [{"test": "datum.value === '3'", "value": 25}, {"test": "datum.value === '4'", "value": 35}], "value": 2},
            "labelPadding": {"condition": [{"test": "datum.value === '3'", "value": 13}, {"test": "datum.value === '4'", "value": 3}], "value": 8},
            "tickSize": 25, "tickWidth": 3, "tickColor": "black",
            "domainColor": "black", "domainWidth": 5, "domainCap": "square", "grid": false
          }
        },
        "y": {
          "field": "q1", "type": "quantitative", "scale": {"domain": [-7, 8], "nice": false, "zero": false},
          "axis": {
            "orient": "left",
            "values": [-7, -6, -5, -4, -3, -2, -1, 0, 1, 2, 3, 4, 5, 6, 7, 8],
            "labelExpr": "datum.value % 2 === 0 ? '' + datum.value : ''",
            "tickSize": {"condition": {"test": "datum.value % 2 === 0", "value": 25}, "value": 14},
            "tickWidth": 4, "tickColor": "black", "domainColor": "black", "domainWidth": 5, "domainCap": "square",
            "labelFont": "Liberation Serif", "labelFontSize": 65, "labelColor": "black", "labelPadding": 16,
            "labelFlush": false, "labelOverlap": false, "labelBound": false,
            "title": "Error (Hour)", "titleFont": "Liberation Serif", "titleFontSize": 70, "titleFontWeight": "bold",
            "titleColor": "black", "titlePadding": 14, "titleY": 572, "grid": false
          }
        },
        "y2": {"field": "q3"}
      }
    },
    {
      "mark": {"type": "bar", "filled": false, "strokeWidth": 3},
      "encoding": {
        "y": {"field": "median", "type": "quantitative", "scale": {"domain": [-7, 8], "nice": false, "zero": false}, "axis": null},
        "y2": {"field": "median"}
      }
    },
    {
      "mark": {"type": "rule", "strokeWidth": 3},
      "encoding": {
        "y": {"field": "q3", "type": "quantitative", "scale": {"domain": [-7, 8], "nice": false, "zero": false}, "axis": null},
        "y2": {"field": "upper"}
      }
    },
    {
      "mark": {"type": "rule", "strokeWidth": 3},
      "encoding": {
        "y": {"field": "lower", "type": "quantitative", "scale": {"domain": [-7, 8], "nice": false, "zero": false}, "axis": null},
        "y2": {"field": "q1"}
      }
    },
    {
      "mark": {"type": "tick", "size": 45, "thickness": 3},
      "encoding": {
        "y": {"field": "upper", "type": "quantitative", "scale": {"domain": [-7, 8], "nice": false, "zero": false}, "axis": null}
      }
    },
    {
      "mark": {"type": "tick", "size": 45, "thickness": 3},
      "encoding": {
        "y": {"field": "lower", "type": "quantitative", "scale": {"domain": [-7, 8], "nice": false, "zero": false}, "axis": null}
      }
    },
    {
      "data": {"name": "extremes"},
      "mark": {"type": "point", "shape": "M-1,-1L1,1M-1,1L1,-1", "size": 250, "strokeWidth": 1.5, "filled": false, "opacity": 0.7},
      "encoding": {
        "y": {"field": "value", "type": "quantitative", "scale": {"domain": [-7, 8], "nice": false, "zero": false}, "axis": null}
      }
    },
    {
      "mark": {"type": "point", "shape": "square", "size": 150, "strokeWidth": 1.5, "filled": false, "opacity": 0.7},
      "encoding": {
        "x": {
          "field": "id", "type": "nominal",
          "scale": {"type": "band", "domain": ["1", "2", "3", "4"], "paddingInner": 0.2, "paddingOuter": 0.1},
          "axis": {"orient": "top", "title": null, "labels": false, "tickSize": -25, "tickWidth": 3, "tickColor": "black", "domainColor": "black", "domainWidth": 5, "domainCap": "square", "grid": false}
        },
        "y": {
          "field": "mean", "type": "quantitative", "scale": {"domain": [-7, 8], "nice": false, "zero": false},
          "axis": {
            "orient": "right", "title": null, "labels": false,
            "values": [-7, -6, -5, -4, -3, -2, -1, 0, 1, 2, 3, 4, 5, 6, 7, 8],
            "tickSize": {"condition": {"test": "datum.value % 2 === 0", "value": -25}, "value": -14},
            "tickWidth": 4, "tickColor": "black", "domainColor": "black", "domainWidth": 5, "domainCap": "square", "grid": false
          }
        }
      }
    }
  ],
  "resolve": {"axis": {"x": "independent", "y": "independent"}}
}
